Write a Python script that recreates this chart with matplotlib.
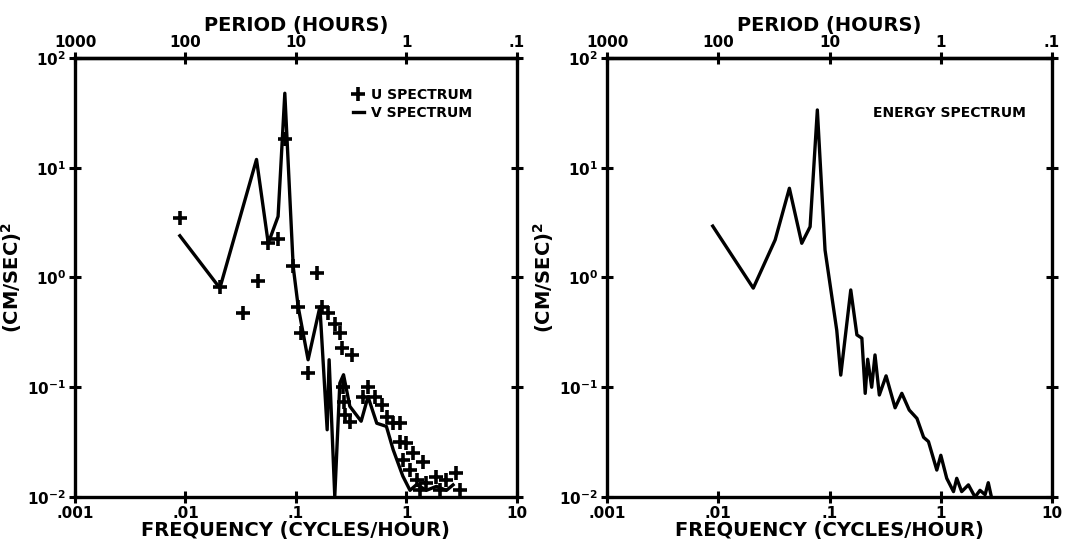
import numpy as np
import matplotlib
matplotlib.use("Agg")
import matplotlib.pyplot as plt
from matplotlib.ticker import NullLocator

plt.rcParams['font.family'] = ['DejaVu Sans Condensed', 'Liberation Sans Narrow', 'DejaVu Sans']
plt.rcParams['font.weight'] = 'bold'
plt.rcParams['axes.labelweight'] = 'bold'
plt.rcParams['mathtext.fontset'] = 'custom'
plt.rcParams['mathtext.bf'] = 'DejaVu Sans:bold'
plt.rcParams['mathtext.default'] = 'bf'

# U spectrum (plus markers), left panel
u_freq = [0.0090, 0.0205, 0.0334, 0.045, 0.0562, 0.069, 0.0794, 0.0946, 0.105,
          0.112, 0.129, 0.154, 0.171, 0.196, 0.225, 0.25, 0.262, 0.268, 0.272,
          0.277, 0.308, 0.32, 0.406, 0.45, 0.52, 0.597, 0.662, 0.76, 0.873,
          0.87, 0.93, 1.0, 1.08, 1.15, 1.24, 1.32, 1.42, 1.52, 1.87, 2.0,
          2.31, 2.84, 3.05]
u_val = [3.46, 0.815, 0.47, 0.92, 2.07, 2.23, 18.2, 1.28, 0.54,
         0.31, 0.134, 1.09, 0.54, 0.47, 0.38, 0.31, 0.23, 0.101, 0.074,
         0.056, 0.0485, 0.197, 0.082, 0.101, 0.082, 0.069, 0.054, 0.047, 0.047,
         0.032, 0.0217, 0.031, 0.0176, 0.025, 0.0143, 0.0116, 0.021, 0.0133, 0.0153, 0.0116,
         0.0143, 0.0164, 0.0116]

# V spectrum (solid line), left panel
v_freq = [0.0089, 0.0205, 0.044, 0.0562, 0.069, 0.0794, 0.0946, 0.105, 0.129,
          0.165, 0.192, 0.20, 0.225, 0.25, 0.27, 0.308, 0.39, 0.45, 0.54,
          0.66, 0.76, 0.93, 1.08, 1.24, 1.52, 1.87, 2.31, 2.65]
v_val = [2.4, 0.80, 11.9, 2.05, 3.6, 47.7, 1.25, 0.54, 0.178,
         0.54, 0.041, 0.178, 0.0101, 0.109, 0.13, 0.067, 0.049, 0.082, 0.047,
         0.044, 0.027, 0.0155, 0.0115, 0.013, 0.0115, 0.0125, 0.0115, 0.0129]

# energy spectrum, right panel
e_freq = [0.0089, 0.0206, 0.0324, 0.0435, 0.0562, 0.0668, 0.0776, 0.091, 0.116,
          0.126, 0.155, 0.176, 0.195, 0.209, 0.22, 0.239, 0.256, 0.28, 0.322,
          0.388, 0.446, 0.52, 0.61, 0.70, 0.774, 0.92, 1.0, 1.13, 1.30, 1.39,
          1.54, 1.77, 2.03, 2.25, 2.5, 2.67, 2.85]
e_val = [2.94, 0.80, 2.2, 6.5, 2.05, 2.9, 33.6, 1.78, 0.33,
         0.129, 0.77, 0.30, 0.28, 0.088, 0.18, 0.10, 0.197, 0.085, 0.127,
         0.065, 0.088, 0.062, 0.052, 0.035, 0.032, 0.0176, 0.024, 0.0148, 0.0112, 0.0148,
         0.0112, 0.0129, 0.0100, 0.0115, 0.0105, 0.0135, 0.0100]

freq_ticks = [0.001, 0.01, 0.1, 1, 10]
freq_labels = ['.001', '.01', '.1', '1', '10']
period_ticks = [1000, 100, 10, 1, 0.1]
period_labels = ['1000', '100', '10', '1', '.1']
y_ticks = [0.01, 0.1, 1, 10, 100]
y_labels = ['$10^{-2}$', '$10^{-1}$', '$10^{0}$', '$10^{1}$', '$10^{2}$']


def inv(x):
    x = np.asarray(x, dtype=float)
    with np.errstate(divide='ignore'):
        return 1.0 / x


fig = plt.figure(figsize=(10.67, 5.47), dpi=100)
ax1 = fig.add_axes([0.0703, 0.0914, 0.414, 0.8026])
ax2 = fig.add_axes([0.569, 0.0914, 0.417, 0.8026])

for ax in (ax1, ax2):
    ax.set_xscale('log')
    ax.set_yscale('log')
    ax.set_xlim(0.001, 10)
    ax.set_ylim(0.01, 100)
    ax.set_xticks(freq_ticks, labels=freq_labels)
    ax.set_yticks(y_ticks, labels=y_labels)
    ax.xaxis.set_minor_locator(NullLocator())
    ax.yaxis.set_minor_locator(NullLocator())
    ax.tick_params(direction='inout', length=9, width=2.2, labelsize=11,
                   right=True, pad=2)
    for sp in ax.spines.values():
        sp.set_linewidth(2.4)
    ax.set_xlabel('FREQUENCY (CYCLES/HOUR)', fontsize=14, labelpad=0)
    ax.set_ylabel('(CM/SEC)$^{2}$', fontsize=14)
    ax.yaxis.set_label_coords(-0.115, 0.5)

    sec = ax.secondary_xaxis('top', functions=(inv, inv))
    sec.set_xticks(period_ticks, labels=period_labels)
    sec.xaxis.set_minor_locator(NullLocator())
    sec.tick_params(direction='inout', length=9, width=2.2, labelsize=11, pad=1)
    sec.spines['top'].set_linewidth(2.4)
    sec.set_xlabel('PERIOD (HOURS)', fontsize=14, labelpad=3)

ax1.plot(v_freq, v_val, '-', color='black', lw=2.4, label='V SPECTRUM')
ax1.plot(u_freq, u_val, '+', color='black', ms=10, mew=2.6, label='U SPECTRUM')
h, l = ax1.get_legend_handles_labels()
ax1.legend(h[::-1], l[::-1], loc='upper left', bbox_to_anchor=(0.6, 0.96),
           frameon=False, handlelength=0.8, handletextpad=0.5, labelspacing=0.3,
           prop={'size': 10, 'weight': 'bold'})

ax2.plot(e_freq, e_val, '-', color='black', lw=2.4)
ax2.text(0.77, 0.875, 'ENERGY SPECTRUM', transform=ax2.transAxes,
         ha='center', va='center', fontsize=10)

fig.savefig('out.png', dpi=100)
